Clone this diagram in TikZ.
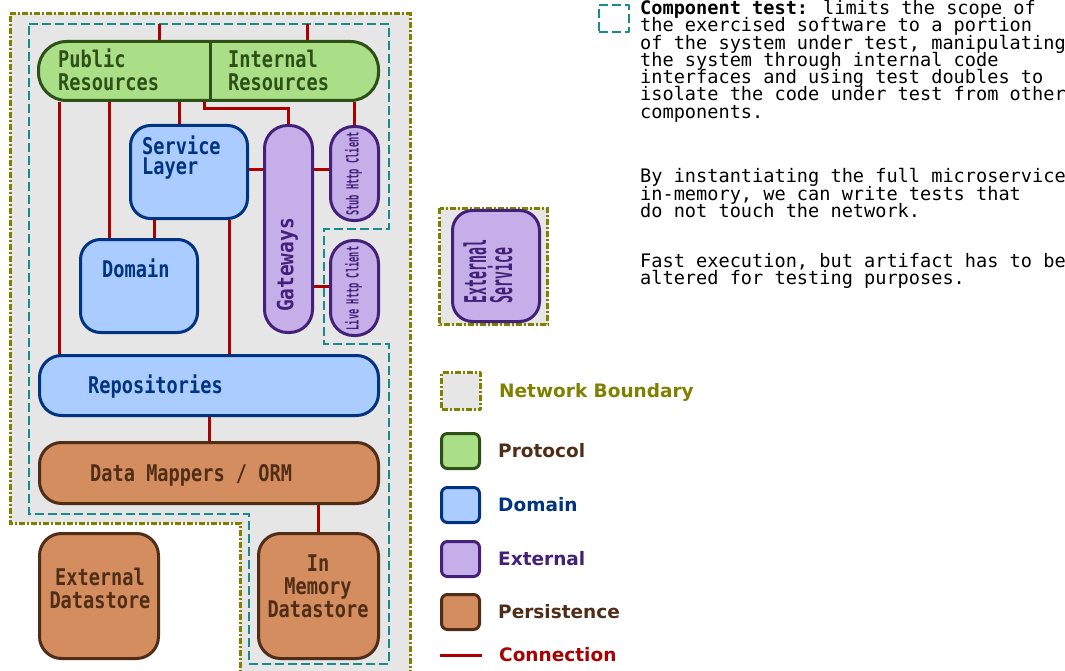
\documentclass[tikz,border=0pt]{standalone}
\usepackage{fontspec}
\setmainfont{DejaVu Sans}
\newfontfamily\boxfont{DejaVu Sans Mono Bold}[FakeStretch=0.81]
\newfontfamily\gwfont{DejaVu Sans Mono Bold}[FakeStretch=0.87]
\newfontfamily\clientfont{DejaVu Sans Mono Bold}[FakeStretch=0.52]
\newfontfamily\extfont{DejaVu Sans Mono Bold}[FakeStretch=0.44]
\newfontfamily\notefont{DejaVu Sans Mono}
\protected\def\tightlines{\lineskiplimit -100pt\relax}
\usetikzlibrary{positioning}

\definecolor{protofill}{HTML}{AADE87}
\definecolor{protodraw}{HTML}{2D5016}
\definecolor{domfill}{HTML}{AACCFF}
\definecolor{domdraw}{HTML}{003380}
\definecolor{extfill}{HTML}{C6AFE9}
\definecolor{extdraw}{HTML}{442178}
\definecolor{persfill}{HTML}{D38D5F}
\definecolor{persdraw}{HTML}{502D16}
\definecolor{connred}{HTML}{AA0000}
\definecolor{netolive}{HTML}{808000}
\definecolor{netgray}{HTML}{E6E6E6}
\definecolor{compteal}{HTML}{168C8C}

\pgfdeclarelayer{back}
\pgfsetlayers{back,main}

\tikzset{
  protobox/.style={draw=protodraw, fill=protofill, line width=3pt, inner sep=0pt},
  dombox/.style={draw=domdraw, fill=domfill, line width=3pt, inner sep=0pt},
  extbox/.style={draw=extdraw, fill=extfill, line width=3pt, inner sep=0pt},
  persbox/.style={draw=persdraw, fill=persfill, line width=3pt, inner sep=0pt},
  legendbox/.style={minimum width=38, minimum height=35, rounded corners=6},
  netb/.style={draw=netolive, fill=netgray, line width=3pt,
    dash pattern=on 6pt off 2pt on 2pt off 2pt},
  comptest/.style={draw=compteal, line width=2pt, dash pattern=on 9pt off 4pt},
  conn/.style={draw=connred, line width=3pt},
  lbl/.style={font=\boxfont\fontsize{23}{23}\selectfont, inner sep=0pt, align=left},
  note/.style={font=\notefont\fontsize{18.6}{17.3}\selectfont\tightlines,
    inner sep=0pt, align=left},
  lgtext/.style={font=\bfseries\fontsize{18.5}{18.5}\selectfont, inner sep=0pt,
    text height=13.5pt, text depth=0pt}
}

\begin{document}
\begin{tikzpicture}[x=1pt, y=-1pt, line join=round]
  \useasboundingbox (0,0) rectangle (1065,671);

  \node[protobox, minimum width=340, minimum height=59, rounded corners=28] (proto) at (208.5,71) {};
  \draw[protodraw, line width=3pt] ([xshift=1.5]proto.north) -- ([xshift=1.5]proto.south);
  \node[dombox, minimum width=117, minimum height=93, rounded corners=20] (svc) at (189,172) {};
  \node[dombox, minimum width=117, minimum height=93, rounded corners=20] (dom) at (139,286) {};
  \node[extbox, minimum width=48, minimum height=207, rounded corners=23] (gw) at (288.5,229) {};
  \node[extbox, minimum width=48, minimum height=94, rounded corners=23] (stub) at (354.5,173.5) {};
  \node[extbox, minimum width=48, minimum height=95, rounded corners=23] (live) at (354.5,288) {};
  \node[dombox, minimum width=339, minimum height=60, rounded corners=22] (repo) at (209,385.5) {};
  \node[persbox, minimum width=339, minimum height=61, rounded corners=22] (orm) at (209,473) {};
  \node[persbox, minimum width=119, minimum height=125, rounded corners=22] (extds) at (99,596) {};
  \node[persbox, minimum width=120, minimum height=125, rounded corners=22] (memds) at (318.5,596) {};
  \node[extbox, minimum width=87, minimum height=111, rounded corners=20] (extsvc) at (496,266) {};

  \node[lbl, text=protodraw, anchor=base west] at (58,91) {Public\\Resources};
  \node[lbl, text=protodraw, anchor=base west] at (228,91) {Internal\\Resources};
  \node[lbl, text=domdraw, anchor=base west, font=\boxfont\fontsize{23}{20}\selectfont] at (142,175) {Service\\Layer};
  \node[lbl, text=domdraw, anchor=base west] at (102,277) {Domain};
  \node[lbl, text=domdraw, anchor=base west] at (88,393) {Repositories};
  \node[lbl, text=persdraw, anchor=base west] at (90,481) {Data Mappers / ORM};
  \node[lbl, text=persdraw, anchor=base, align=center] at (100,608) {External\\Datastore};
  \node[lbl, text=persdraw, anchor=base, align=center] at (318,617) {In\\Memory\\Datastore};
  \node[rotate=90, text=extdraw, inner sep=0pt, font=\gwfont\fontsize{22.4}{22.4}\selectfont] at (287.5,265) {Gateways};
  \node[rotate=90, text=extdraw, inner sep=0pt, font=\clientfont\fontsize{16.7}{16.7}\selectfont] at (353.5,174) {Stub Http Client};
  \node[rotate=90, text=extdraw, inner sep=0pt, font=\clientfont\fontsize{16.7}{16.7}\selectfont] at (353.5,288.5) {Live Http Client};
  \node[rotate=90, text=extdraw, inner sep=0pt, align=left, font=\extfont\fontsize{30}{26}\selectfont] at (488,271.5) {External\\Service};

  \node[note, anchor=base west] (notecomp) at (640,118.3) {\textbf{Component test:} limits the scope of\\the exercised software to a portion\\of the system under test, manipulating\\the system through internal code\\interfaces and using test doubles to\\isolate the code under test from other\\components.};
  \node[note, anchor=base west] (notemem) at (640,217.6) {By instantiating the full microservice\\in-memory, we can write tests that\\do not touch the network.};
  \node[note, anchor=base west] (notefast) at (640,284.3) {Fast execution, but artifact has to be\\altered for testing purposes.};

  \node[comptest, minimum width=30, minimum height=27, inner sep=0pt] (lgcomp) at (614,18.5) {};
  \node[netb, minimum width=39, minimum height=37, inner sep=0pt] (lgnet) at (461,391) {};
  \node[protobox, legendbox] (lgproto) at (460.5,451) {};
  \node[dombox, legendbox] (lgdom) at (460.5,505) {};
  \node[extbox, legendbox] (lgext) at (460.5,559) {};
  \node[persbox, legendbox] (lgpers) at (460.5,612) {};
  \coordinate (lgca) at (440,655);
  \coordinate (lgcb) at (482,655);
  \node[lgtext, text=netolive, right=17 of lgnet] {Network Boundary};
  \node[lgtext, text=persdraw, right=17 of lgproto] {Protocol};
  \node[lgtext, text=domdraw, right=17 of lgdom] {Domain};
  \node[lgtext, text=extdraw, right=17 of lgext] {External};
  \node[lgtext, text=persdraw, right=17 of lgpers] {Persistence};
  \node[lgtext, text=connred, right=17 of lgcb] {Connection};

  \begin{pgfonlayer}{back}
    \draw[netb] (10,14) -- (410,14) -- (410,680) -- (240,680) -- (240,523) -- (10,523) -- cycle;
    \draw[netb] (439.5,208.5) rectangle (547.5,324.5);
    \draw[comptest] (29,24) -- (389,24) -- (389,229) -- (324,229) -- (324,344) -- (389,344)
      -- (389,664) -- (249,664) -- (249,514) -- (29,514) -- cycle;
    \coordinate (topa) at (159,24);
    \coordinate (topb) at (307,24);
    \draw[conn] (topa) -- (topa |- proto.north);
    \draw[conn] (topb) -- (topb |- proto.north);
    \draw[conn] ([xshift=-150]repo.north) -- ([xshift=-150]repo.north |- proto.south);
    \draw[conn] ([xshift=-30]dom.north) -- ([xshift=-30]dom.north |- proto.south);
    \draw[conn] ([xshift=-10]svc.north) -- ([xshift=-10]svc.north |- proto.south);
    \draw[conn] ([xshift=-4.5]proto.south) -- ++(0,7) -| (gw.north);
    \draw[conn] (stub.north) -- (stub.north |- proto.south);
    \draw[conn] ([yshift=2]svc.east) -- ([yshift=2]svc.east -| gw.west);
    \draw[conn] ([yshift=3.5]stub.west) -- ([yshift=3.5]stub.west -| gw.east);
    \draw[conn] ([yshift=2]live.west) -- ([yshift=2]live.west -| gw.east);
    \draw[conn] ([xshift=-35]svc.south) -- ([xshift=-35]svc.south |- dom.north);
    \draw[conn] ([xshift=40]svc.south) -- ([xshift=40]svc.south |- repo.north);
    \draw[conn] (repo.south) -- (orm.north);
    \draw[conn] (memds.north) -- (memds.north |- orm.south);
    \draw[conn] (lgca) -- (lgcb);
  \end{pgfonlayer}
\end{tikzpicture}
\end{document}
